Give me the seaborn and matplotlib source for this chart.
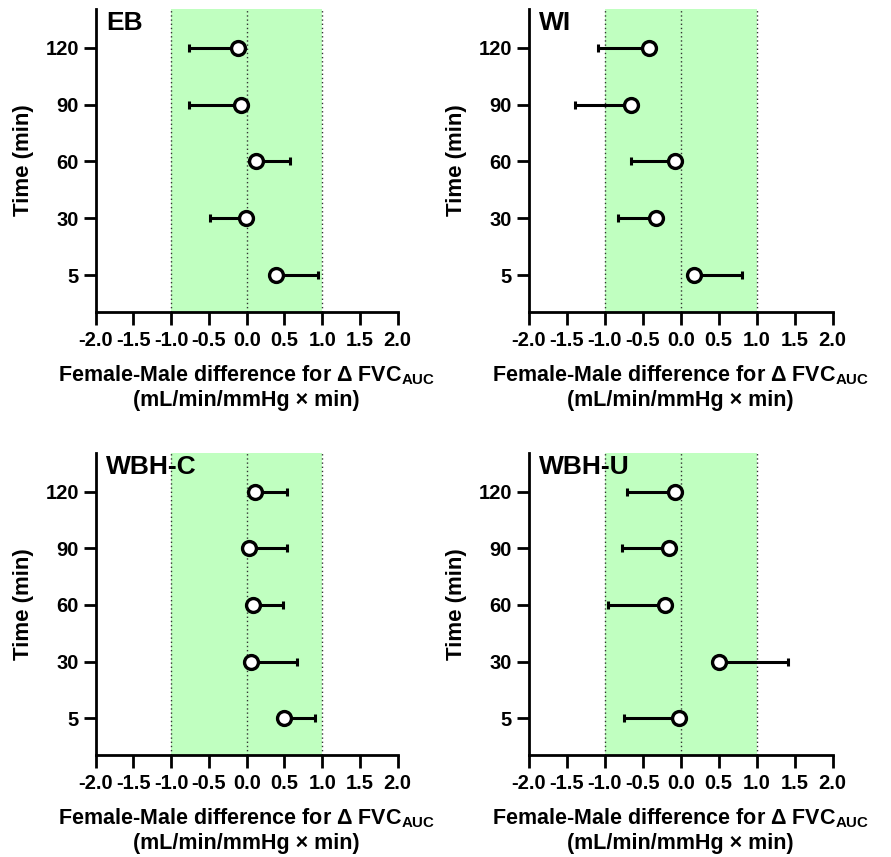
import numpy as np
import pandas as pd
import matplotlib
matplotlib.use("Agg")
import matplotlib.pyplot as plt
import seaborn as sns

sns.set_style("ticks")
plt.rcParams['font.family'] = ['Liberation Sans', 'DejaVu Sans']
plt.rcParams['mathtext.fontset'] = 'custom'
plt.rcParams['mathtext.bf'] = 'Liberation Sans:bold'
plt.rcParams['mathtext.rm'] = 'Liberation Sans:bold'
for k in ('text.color', 'axes.labelcolor', 'xtick.color', 'ytick.color', 'axes.edgecolor'):
    plt.rcParams[k] = 'black'

# ---- data ----
times = ["5", "30", "60", "90", "120"]
panels = ["EB", "WI", "WBH-C", "WBH-U"]

eb_mean = [0.39, -0.01, 0.12, -0.08, -0.115]
eb_end = [0.94, -0.48, 0.58, -0.76, -0.76]

wi_mean = [0.18, -0.32, -0.07, -0.66, -0.42]
wi_end = [0.81, -0.83, -0.66, -1.39, -1.09]

wbhc_mean = [0.50, 0.06, 0.09, 0.035, 0.11]
wbhc_end = [0.90, 0.66, 0.48, 0.54, 0.53]

wbhu_mean = [-0.02, 0.50, -0.21, -0.16, -0.08]
wbhu_end = [-0.74, 1.41, -0.96, -0.77, -0.71]

means = [eb_mean, wi_mean, wbhc_mean, wbhu_mean]
ends = [eb_end, wi_end, wbhc_end, wbhu_end]

xticks = [-2.0, -1.5, -1.0, -0.5, 0.0, 0.5, 1.0, 1.5, 2.0]
xticklabels = ["-2.0", "-1.5", "-1.0", "-0.5", "0.0", "0.5", "1.0", "1.5", "2.0"]

W, H = 891, 857
fig = plt.figure(figsize=(W / 100, H / 100), dpi=100)

rects = [
    (95.7, 9, 397.7, 312),
    (528.7, 9, 832.7, 312),
    (95.7, 453, 397.7, 755),
    (528.7, 453, 832.7, 755),
]

for i, name in enumerate(panels):
    l, t, r, b = rects[i]
    ax = fig.add_axes([l / W, (H - b) / H, (r - l) / W, (b - t) / H])
    df = pd.DataFrame({"time": times, "mean": means[i], "end": ends[i]})
    df["pos"] = np.arange(len(times))

    ax.axvspan(-1, 1, color="#c0ffc0", zorder=0, lw=0)
    for xv in (-1, 0, 1):
        ax.axvline(xv, color="#333333", ls=(0, (1, 2)), lw=1.0, zorder=1)

    lo = np.clip(df["mean"] - df["end"], 0, None)
    hi = np.clip(df["end"] - df["mean"], 0, None)
    ax.errorbar(df["mean"], df["pos"], xerr=[lo, hi], fmt="none",
                ecolor="black", elinewidth=2.2, capsize=3.0, capthick=2.2, zorder=2)
    sns.scatterplot(data=df, x="mean", y="pos", ax=ax, s=100, marker="o",
                    color="white", edgecolor="black", linewidth=2.4, zorder=3,
                    legend=False)

    ax.set_xlim(-2.0, 2.0)
    ax.set_ylim(-0.65, 4.68)
    ax.set_xticks(xticks)
    ax.set_xticklabels(xticklabels, fontsize=14.5, fontweight="bold")
    ax.set_yticks(df["pos"])
    ax.set_yticklabels(times, fontsize=14.5, fontweight="bold")
    ax.tick_params(axis="both", length=9, width=2.0, color="black", pad=3)
    ax.tick_params(axis="x", pad=5)
    for s in ("top", "right"):
        ax.spines[s].set_visible(False)
    for s in ("left", "bottom"):
        ax.spines[s].set_linewidth(2.0)
        ax.spines[s].set_color("black")

    ax.set_ylabel("Time (min)", fontsize=16, fontweight="bold", labelpad=8)
    ax.set_xlabel("Female-Male difference for Δ FVC$_{\\mathbf{AUC}}$\n(mL/min/mmHg × min)",
                  fontsize=15.5, fontweight="bold", labelpad=9, linespacing=1.22)
    ax.text(0.035, 0.995, name, transform=ax.transAxes, fontsize=19,
            fontweight="bold", va="top", ha="left", zorder=5)

fig.savefig("out.png", dpi=100)
